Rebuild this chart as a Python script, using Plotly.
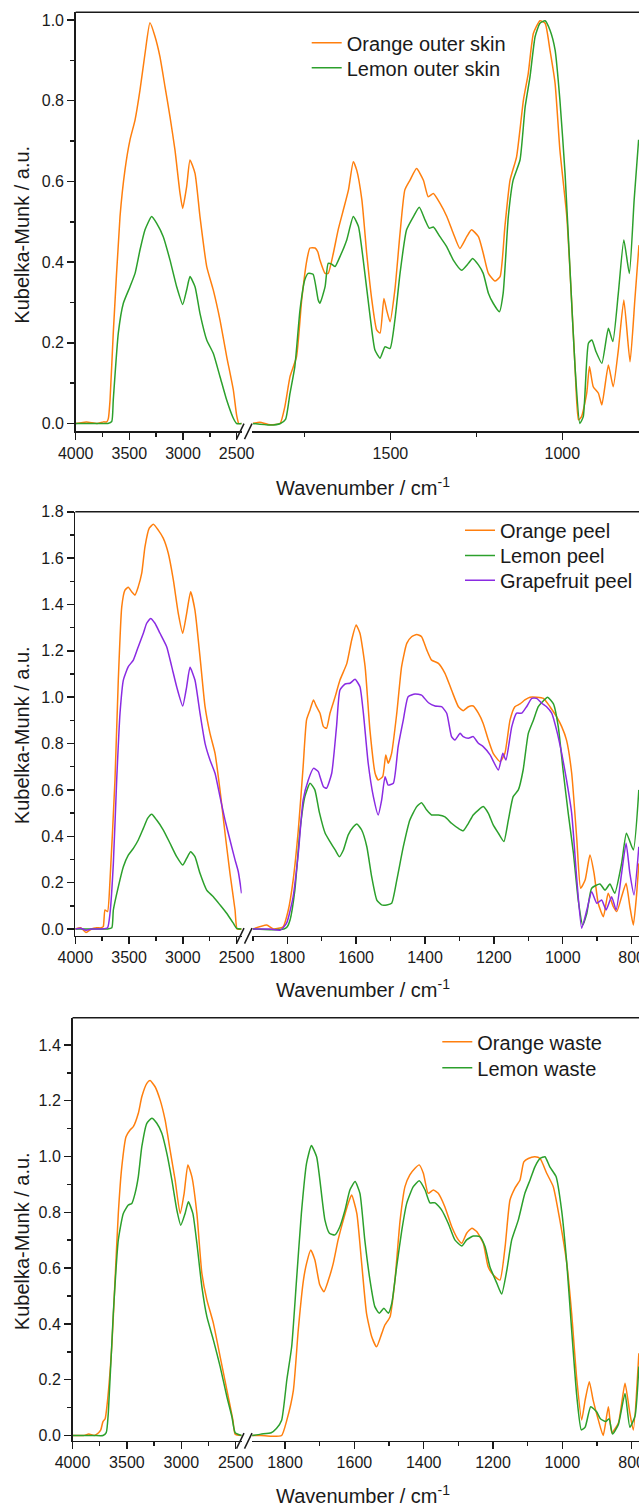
import plotly.graph_objects as go

# ---------------- data (wavenumber / cm-1, Kubelka-Munk) ----------------
# Panel 1: outer skins
oos_wn = [4000,3900,3800,3740,3711,3696,3680,3650,3587,3541,3494,3447,3401,3354,3308,3261,3215,3168,3121,3075,3028,3003,2966,2935,2888,2842,2779,2718,2655,2593,2531,2500,2480,2453,
          1900,1880,1850,1821,1807,1792,1773,1758,1743,1734,1719,1711,1705,1690,1681,1666,1652,1637,1622,1608,1598,1583,1569,1554,1540,1530,1519,1511,1501,1487,1472,1458,1443,1424,1404,1390,1375,1356,1336,1317,1298,1278,1264,1244,1230,1215,1196,1181,1167,1152,1133,1113,1099,1084,1065,1050,1036,1021,1007,987,973,963,953,944,929,921,910,895,885,866,852,837,821,803,789,777]
oos_km = [0.0,0.004,0.0,0.004,0.004,0.012,0.058,0.224,0.513,0.628,0.703,0.752,0.826,0.917,0.993,0.959,0.909,0.835,0.760,0.678,0.571,0.533,0.587,0.653,0.620,0.513,0.389,0.331,0.256,0.166,0.083,0.02,0.0,0.0,
          0.0,0.003,-0.003,0.0,0.042,0.116,0.166,0.306,0.405,0.435,0.435,0.425,0.405,0.372,0.372,0.422,0.480,0.529,0.579,0.649,0.628,0.554,0.422,0.306,0.232,0.224,0.310,0.281,0.252,0.331,0.471,0.579,0.603,0.632,0.603,0.562,0.570,0.546,0.513,0.471,0.434,0.463,0.480,0.463,0.422,0.372,0.353,0.364,0.488,0.603,0.661,0.802,0.868,0.967,0.998,0.992,0.926,0.843,0.678,0.513,0.306,0.141,0.009,0.017,0.075,0.141,0.091,0.075,0.046,0.145,0.091,0.182,0.306,0.153,0.306,0.442]
los_wn = [4000,3900,3800,3700,3664,3650,3603,3556,3494,3447,3401,3354,3292,3245,3184,3121,3059,3003,2966,2935,2888,2842,2779,2718,2655,2593,2531,2500,2453,
          1900,1850,1820,1805,1792,1778,1763,1749,1739,1725,1710,1705,1690,1681,1671,1661,1647,1627,1608,1593,1579,1559,1545,1530,1516,1501,1487,1472,1453,1433,1416,1399,1387,1375,1356,1336,1317,1293,1273,1261,1244,1230,1215,1201,1183,1172,1157,1143,1123,1108,1094,1079,1065,1050,1036,1021,1007,992,978,963,949,939,924,914,902,885,866,853,837,821,805,791,778]
los_km = [0.0,0.0,0.0,0.0,0.005,0.058,0.224,0.298,0.339,0.372,0.430,0.480,0.513,0.496,0.463,0.405,0.339,0.295,0.331,0.364,0.339,0.273,0.207,0.174,0.116,0.058,0.013,0.0,0.0,
          0.0,-0.004,0.0,0.01,0.075,0.141,0.281,0.356,0.372,0.370,0.306,0.298,0.339,0.397,0.395,0.389,0.413,0.455,0.513,0.488,0.405,0.265,0.182,0.162,0.190,0.186,0.256,0.372,0.480,0.513,0.536,0.504,0.484,0.487,0.463,0.438,0.405,0.380,0.397,0.409,0.393,0.372,0.323,0.298,0.277,0.323,0.513,0.603,0.653,0.785,0.859,0.959,0.992,0.998,0.975,0.926,0.802,0.620,0.389,0.141,0.0,0.017,0.199,0.207,0.178,0.149,0.236,0.203,0.323,0.455,0.372,0.554,0.703]

# Panel 2: peels
op_wn = [4000,3950,3900,3850,3800,3760,3740,3724,3700,3677,3631,3600,3568,3538,3507,3475,3445,3414,3382,3352,3312,3274,3228,3181,3135,3088,3042,3001,2964,2927,2887,2840,2793,2747,2700,2654,2607,2561,2514,2495,2453,
         1900,1860,1840,1812,1797,1783,1768,1754,1744,1734,1724,1715,1705,1695,1686,1676,1661,1647,1627,1613,1600,1589,1574,1560,1545,1536,1523,1514,1507,1497,1482,1468,1453,1439,1424,1410,1395,1381,1361,1342,1323,1303,1289,1274,1260,1245,1231,1216,1202,1182,1168,1153,1139,1124,1110,1095,1076,1056,1037,1018,1003,989,974,959,948,935,921,909,897,882,868,853,843,829,816,805,795,786,779]
op_km = [0.0,0.005,-0.015,0.0,0.005,0.005,0.01,0.082,0.075,0.211,0.643,1.074,1.390,1.462,1.474,1.455,1.441,1.477,1.535,1.649,1.729,1.746,1.721,1.685,1.621,1.506,1.362,1.276,1.362,1.455,1.376,1.175,0.959,0.844,0.758,0.600,0.413,0.240,0.082,0.0,0.0,
         0.0,0.017,0.0,0.010,0.082,0.211,0.427,0.700,0.902,0.945,0.988,0.959,0.931,0.873,0.866,0.931,1.002,1.074,1.146,1.247,1.311,1.276,1.132,0.859,0.672,0.643,0.657,0.751,0.715,0.758,0.931,1.132,1.232,1.261,1.271,1.261,1.204,1.160,1.146,1.103,1.031,0.959,0.942,0.959,0.962,0.931,0.887,0.815,0.758,0.722,0.758,0.902,0.959,0.971,0.988,1.000,1.000,0.995,0.959,0.916,0.873,0.815,0.672,0.384,0.176,0.211,0.319,0.240,0.111,0.053,0.154,0.096,0.075,0.139,0.197,0.096,0.017,0.139,0.283]
lp_wn = [4000,3900,3800,3700,3660,3646,3600,3553,3507,3460,3414,3367,3326,3289,3243,3181,3119,3057,3001,2964,2927,2887,2840,2778,2716,2654,2592,2530,2499,2453,
         1900,1850,1810,1800,1792,1778,1763,1749,1734,1720,1707,1690,1676,1661,1649,1637,1623,1608,1598,1584,1569,1555,1540,1526,1511,1497,1482,1463,1444,1424,1410,1395,1381,1361,1342,1323,1303,1289,1274,1260,1245,1231,1216,1202,1187,1171,1158,1144,1129,1115,1100,1085,1071,1056,1044,1027,1013,998,984,969,955,942,930,916,892,877,863,849,829,815,795,779]
lp_km = [0.0,0.0,0.0,0.0,0.005,0.082,0.182,0.269,0.319,0.348,0.384,0.434,0.478,0.495,0.470,0.427,0.370,0.312,0.276,0.305,0.333,0.312,0.240,0.168,0.139,0.104,0.068,0.025,0.003,0.0,
         0.0,-0.003,0.0,0.01,0.039,0.168,0.427,0.571,0.629,0.600,0.504,0.413,0.377,0.341,0.312,0.341,0.406,0.441,0.453,0.427,0.355,0.226,0.125,0.104,0.104,0.111,0.211,0.355,0.470,0.528,0.545,0.513,0.492,0.492,0.484,0.456,0.434,0.424,0.456,0.492,0.513,0.528,0.499,0.449,0.413,0.377,0.470,0.571,0.600,0.686,0.844,0.902,0.959,0.985,1.000,0.971,0.873,0.672,0.499,0.327,0.125,0.017,0.068,0.176,0.194,0.168,0.194,0.154,0.283,0.413,0.341,0.600]
gp_wn = [4000,3950,3900,3850,3800,3750,3700,3677,3646,3615,3584,3553,3507,3460,3414,3367,3336,3299,3259,3212,3150,3103,3057,3001,2964,2933,2887,2840,2793,2747,2700,2654,2607,2561,2514,2484,2453,
         1900,1850,1820,1802,1783,1768,1754,1739,1724,1710,1705,1695,1686,1671,1657,1647,1632,1618,1603,1589,1579,1565,1550,1536,1526,1516,1507,1492,1478,1463,1449,1429,1410,1390,1371,1352,1337,1323,1313,1298,1289,1274,1260,1245,1231,1211,1187,1174,1165,1148,1134,1119,1105,1090,1076,1061,1047,1032,1018,1003,989,974,959,945,930,916,901,887,874,858,845,829,816,805,793,779]
gp_km = [0.0,0.003,-0.005,0.0,0.0,0.0,0.005,0.068,0.283,0.643,0.931,1.074,1.132,1.160,1.218,1.276,1.319,1.340,1.319,1.276,1.218,1.132,1.045,0.962,1.045,1.129,1.074,0.931,0.801,0.729,0.672,0.571,0.470,0.384,0.298,0.248,0.154,
         0.0,0.0,-0.005,0.025,0.139,0.327,0.556,0.643,0.693,0.679,0.657,0.614,0.607,0.672,0.873,1.031,1.057,1.060,1.077,1.045,0.931,0.715,0.571,0.492,0.556,0.657,0.621,0.629,0.787,0.902,1.002,1.014,1.009,0.976,0.962,0.959,0.931,0.830,0.815,0.844,0.830,0.823,0.830,0.801,0.787,0.751,0.686,0.758,0.729,0.873,0.931,0.931,0.959,0.995,0.995,0.974,0.959,0.931,0.859,0.758,0.643,0.499,0.211,0.003,0.082,0.161,0.111,0.125,0.082,0.139,0.082,0.240,0.370,0.240,0.147,0.355]

# Panel 3: wastes
ow_wn = [4000,3900,3850,3800,3760,3740,3720,3700,3685,3639,3609,3579,3547,3508,3471,3441,3395,3363,3317,3287,3241,3195,3149,3103,3057,3011,2974,2940,2903,2857,2811,2765,2705,2643,2581,2526,2505,2445,
         1895,1870,1840,1810,1795,1776,1762,1747,1738,1726,1714,1700,1688,1675,1661,1647,1632,1618,1608,1593,1579,1565,1550,1536,1521,1512,1497,1483,1468,1454,1440,1425,1413,1401,1387,1372,1358,1339,1319,1300,1290,1276,1261,1247,1228,1214,1199,1180,1165,1151,1137,1122,1111,1098,1079,1064,1045,1026,1007,987,973,958,944,934,922,911,896,882,867,857,838,819,805,795,779]
ow_km = [0.0,0.0,0.005,0.0,0.01,0.02,0.05,0.06,0.10,0.318,0.557,0.796,0.963,1.071,1.095,1.107,1.155,1.214,1.262,1.272,1.250,1.203,1.131,1.023,0.916,0.796,0.868,0.970,0.928,0.796,0.581,0.486,0.402,0.282,0.163,0.056,0.005,0.0,
         0.0,0.0,-0.003,0.0,0.055,0.163,0.378,0.557,0.617,0.665,0.629,0.54,0.515,0.557,0.617,0.701,0.772,0.832,0.862,0.796,0.617,0.438,0.354,0.318,0.366,0.396,0.426,0.557,0.772,0.892,0.934,0.958,0.970,0.940,0.868,0.880,0.868,0.820,0.748,0.701,0.689,0.725,0.743,0.731,0.689,0.605,0.575,0.557,0.677,0.844,0.886,0.916,0.981,0.993,0.999,0.993,0.940,0.892,0.772,0.617,0.438,0.199,0.056,0.127,0.193,0.127,0.056,0.0,0.103,0.01,0.045,0.187,0.08,0.02,0.295]
lw_wn = [4000,3900,3800,3720,3690,3671,3625,3579,3533,3487,3455,3425,3395,3363,3317,3271,3225,3179,3133,3087,3041,3005,2965,2935,2894,2857,2811,2765,2705,2643,2581,2535,2505,2445,
         1895,1870,1840,1825,1810,1795,1781,1767,1753,1738,1724,1709,1700,1685,1672,1656,1642,1627,1613,1598,1584,1570,1555,1541,1528,1515,1502,1492,1478,1463,1449,1430,1413,1396,1382,1367,1348,1329,1310,1290,1276,1257,1238,1223,1209,1189,1175,1160,1146,1127,1108,1093,1079,1064,1050,1036,1018,1002,987,973,958,945,934,918,901,890,875,865,855,838,819,805,790,779]
lw_km = [0.0,0.0,0.0,0.0,0.01,0.080,0.438,0.701,0.796,0.826,0.832,0.868,0.928,1.035,1.119,1.137,1.119,1.083,1.011,0.916,0.808,0.754,0.796,0.838,0.796,0.689,0.533,0.426,0.342,0.247,0.139,0.067,0.01,0.0,
         0.0,0.005,0.01,0.025,0.055,0.199,0.318,0.557,0.796,0.976,1.039,0.999,0.92,0.772,0.725,0.719,0.748,0.808,0.880,0.910,0.868,0.701,0.557,0.462,0.438,0.456,0.438,0.474,0.605,0.737,0.832,0.892,0.913,0.880,0.834,0.834,0.808,0.760,0.701,0.679,0.701,0.715,0.713,0.677,0.605,0.546,0.507,0.593,0.701,0.772,0.868,0.916,0.963,0.993,0.999,0.963,0.928,0.808,0.617,0.378,0.139,0.02,0.03,0.103,0.085,0.06,0.05,0.06,0.005,0.04,0.151,0.03,0.07,0.247]

ORANGE = "#FF7F0E"
GREEN = "#2CA02C"
PURPLE = "#8A2BE2"

W, H = 639, 1508
FONT = "Liberation Sans, Arial, sans-serif"
INK = "#1a1a1a"

# panel geometry in pixels; legend rows: (text-left px, row-centre px)
panels = [
    dict(series=[("Orange outer skin", oos_wn, oos_km, ORANGE), ("Lemon outer skin", los_wn, los_km, GREEN)],
         left_px=75.7, top=12.3, bottom=431.2, yrange=[-0.0191, 1.0191],
         lrange=[4000, 2453], rrange=[1902.6, 776.9], rdt=500, rminor=250,
         leg_x=347.7, leg_rows=[43.3, 68.3], ytitle_y=235, xtitle_y=487),
    dict(series=[("Orange peel", op_wn, op_km, ORANGE), ("Lemon peel", lp_wn, lp_km, GREEN),
                 ("Grapefruit peel", gp_wn, gp_km, PURPLE)],
         left_px=75.3, top=511.7, bottom=935.7, yrange=[-0.0289, 1.8003],
         lrange=[4000, 2452], rrange=[1902.5, 778.5], rdt=200, rminor=100,
         leg_x=501.0, leg_rows=[530.7, 556.0, 580.7], ytitle_y=735.5, xtitle_y=988),
    dict(series=[("Orange waste", ow_wn, ow_km, ORANGE), ("Lemon waste", lw_wn, lw_km, GREEN)],
         left_px=72.5, top=1017.7, bottom=1440.7, yrange=[-0.0186, 1.4975],
         lrange=[4000, 2445], rrange=[1895.5, 778.6], rdt=200, rminor=100,
         leg_x=478.3, leg_rows=[1042.3, 1068.3], ytitle_y=1241.5, xtitle_y=1494),
]

LEFT_END_PX = 241.7
RIGHT_START_PX = 252.0
LEG_TEXT_OFFSET = 41.0
LEG_ROW_OFFSET = 20.0

fig = go.Figure()
layout = dict(width=W, height=H, margin=dict(l=0, r=0, t=0, b=0, pad=0, autoexpand=False),
              paper_bgcolor="white", plot_bgcolor="white", showlegend=True,
              font=dict(family=FONT, size=16, color=INK))
shapes = []
annotations = []

axis_common = dict(showline=True, linecolor=INK, linewidth=1.5, ticks="outside", ticklen=7,
                   tickwidth=1.5, tickcolor=INK, showgrid=False, zeroline=False, automargin=False,
                   ticklabeloverflow="allow",
                   tickfont=dict(family=FONT, size=16, color=INK), mirror=False)

leg_count = 0
for i, p in enumerate(panels):
    xl = 2 * i + 1
    xr = 2 * i + 2
    yi = i + 1
    xl_ref = "x" if xl == 1 else f"x{xl}"
    xr_ref = f"x{xr}"
    y_ref = "y" if yi == 1 else f"y{yi}"
    ydom = [1 - p["bottom"] / H, 1 - p["top"] / H]

    layout["xaxis" if xl == 1 else f"xaxis{xl}"] = dict(
        axis_common, domain=[p["left_px"] / W, LEFT_END_PX / W], range=p["lrange"],
        anchor=y_ref, tickmode="linear", tick0=0, dtick=500,
        minor=dict(ticks="outside", ticklen=4, tickwidth=1.5, tickcolor=INK, dtick=250, tick0=0))
    layout[f"xaxis{xr}"] = dict(
        axis_common, domain=[RIGHT_START_PX / W, 1.0], range=p["rrange"],
        anchor=y_ref, tickmode="linear", tick0=0, dtick=p["rdt"],
        minor=dict(ticks="outside", ticklen=4, tickwidth=1.5, tickcolor=INK, dtick=p["rminor"], tick0=0))
    layout["yaxis" if yi == 1 else f"yaxis{yi}"] = dict(
        axis_common, domain=ydom, range=p["yrange"], anchor=xl_ref,
        tickmode="linear", tick0=0, dtick=0.2, tickformat=".1f",
        minor=dict(ticks="outside", ticklen=4, tickwidth=1.5, tickcolor=INK, dtick=0.1, tick0=0))

    for (name, wn, km, col), row_y in zip(p["series"], p["leg_rows"]):
        leg_count += 1
        leg_ref = "legend" if leg_count == 1 else f"legend{leg_count}"
        lx = [w for w in wn if w > 2200]
        ly = [k for w, k in zip(wn, km) if w > 2200]
        rx = [w for w in wn if w <= 2200]
        ry = [k for w, k in zip(wn, km) if w <= 2200]
        fig.add_trace(go.Scatter(x=lx, y=ly, xaxis=xl_ref, yaxis=y_ref, mode="lines", name=name,
                                 legend=leg_ref, showlegend=True,
                                 line=dict(color=col, width=1.5, shape="spline", smoothing=0.5)))
        fig.add_trace(go.Scatter(x=rx, y=ry, xaxis=xr_ref, yaxis=y_ref, mode="lines", name=name,
                                 legend=leg_ref, showlegend=False,
                                 line=dict(color=col, width=1.5, shape="spline", smoothing=0.5)))
        layout[leg_ref] = dict(x=(p["leg_x"] - LEG_TEXT_OFFSET) / W, y=1 - (row_y - LEG_ROW_OFFSET) / H,
                               xanchor="left", yanchor="top", bgcolor="rgba(0,0,0,0)", borderwidth=0,
                               font=dict(family=FONT, size=20, color=INK))

    # top border
    shapes.append(dict(type="line", xref="paper", yref="paper",
                       x0=p["left_px"] / W, x1=1.0, y0=ydom[1], y1=ydom[1],
                       line=dict(color=INK, width=1.5)))
    # axis break marks
    a = p["bottom"]
    for x0 in (236.5, 244.5):
        shapes.append(dict(type="line", xref="paper", yref="paper",
                           x0=x0 / W, y0=1 - (a + 8) / H, x1=(x0 + 7.5) / W, y1=1 - (a - 7.5) / H,
                           line=dict(color=INK, width=1.5)))

    annotations.append(dict(text="Wavenumber / cm<sup>-1</sup>", xref="paper", yref="paper",
                            x=362.5 / W, y=1 - p["xtitle_y"] / H, xanchor="center", yanchor="middle",
                            showarrow=False, font=dict(family=FONT, size=20, color=INK)))
    annotations.append(dict(text="Kubelka-Munk / a.u.", xref="paper", yref="paper",
                            x=21.7 / W, y=1 - p["ytitle_y"] / H, xanchor="center", yanchor="middle",
                            textangle=-90, showarrow=False, font=dict(family=FONT, size=20, color=INK)))

layout["shapes"] = shapes
layout["annotations"] = annotations
fig.update_layout(**layout)
fig.write_html("out.html",
               config={"displayModeBar": False, "staticPlot": True},
               post_script="document.body.style.margin='0px';document.body.style.padding='0px';"
                           "document.documentElement.style.overflow='hidden';")
